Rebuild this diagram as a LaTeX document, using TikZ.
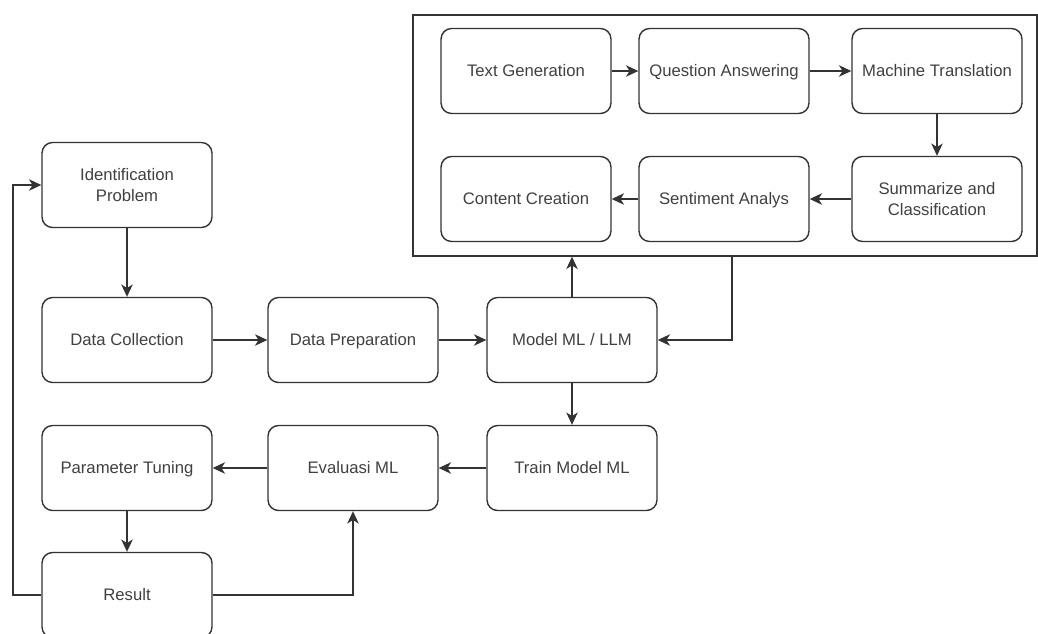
\documentclass[tikz,border=0pt]{standalone}
\usepackage{fontspec}
\setmainfont{Liberation Sans}
\usetikzlibrary{arrows.meta}
\begin{document}
\begin{tikzpicture}[
            x=0.02cm,
            y=-0.02cm,
            every node/.style={
                font=\fontsize{9.5}{11.5}\selectfont,
                text=black!75,
                align=center
            },
            box/.style={
                draw=black!80,
                line width=0.8pt,
                rounded corners=6pt,
                minimum width=3.4cm,
                minimum height=1.7cm,
                inner sep=2pt
            },
            oneline/.style={
                box,
                text height=6.8pt,
                text depth=0pt
            },
            arr/.style={
                draw=black!80,
                line width=0.75pt,
                -{Stealth[length=7pt,width=6.5pt,inset=2pt]}
            }
        ]
            \useasboundingbox (0,0) rectangle (1038,633);

            % outer frame with the tasks
            \node[draw=black!80, line width=0.8pt, minimum width=12.48cm, minimum height=4.82cm] (tasks) at (725,135.5) {};

            \node[oneline] (textgen) at (526,71) {Text Generation};
            \node[oneline] (qa) at (724,71) {Question Answering};
            \node[oneline] (mt) at (937,71) {Machine Translation};
            \node[oneline] (content) at (526,199) {Content Creation};
            \node[oneline] (sentiment) at (724,199) {Sentiment Analys};
            \node[box] (summ) at (937,199) {Summarize and\\Classification};

            % main flow
            \node[box] (ident) at (127,185) {Identification\\Problem};
            \node[oneline] (collect) at (127,340) {Data Collection};
            \node[oneline] (prep) at (353,340) {Data Preparation};
            \node[oneline] (model) at (572,340) {Model ML / LLM};
            \node[oneline] (train) at (572,468) {Train Model ML};
            \node[oneline] (eval) at (353,468) {Evaluasi ML};
            \node[oneline] (tuning) at (127,468) {Parameter Tuning};
            \node[oneline] (result) at (127,595) {Result};

            \coordinate (loop) at (13,595);
            \coordinate (back) at (732,256);

            \draw[arr] (textgen)--(qa);
            \draw[arr] (qa)--(mt);
            \draw[arr] (mt)--(summ);
            \draw[arr] (summ)--(sentiment);
            \draw[arr] (sentiment)--(content);

            \draw[arr] (ident)--(collect);
            \draw[arr] (collect)--(prep);
            \draw[arr] (prep)--(model);
            \draw[arr] (model.north)--(model.north |- tasks.south);
            \draw[arr] (back) |- (model.east);
            \draw[arr] (model)--(train);
            \draw[arr] (train)--(eval);
            \draw[arr] (eval)--(tuning);
            \draw[arr] (tuning)--(result);
            \draw[arr] (result.east) -| (eval.south);
            \draw[arr] (result.west)--(loop) |- (ident.west);
        \end{tikzpicture}
\end{document}
